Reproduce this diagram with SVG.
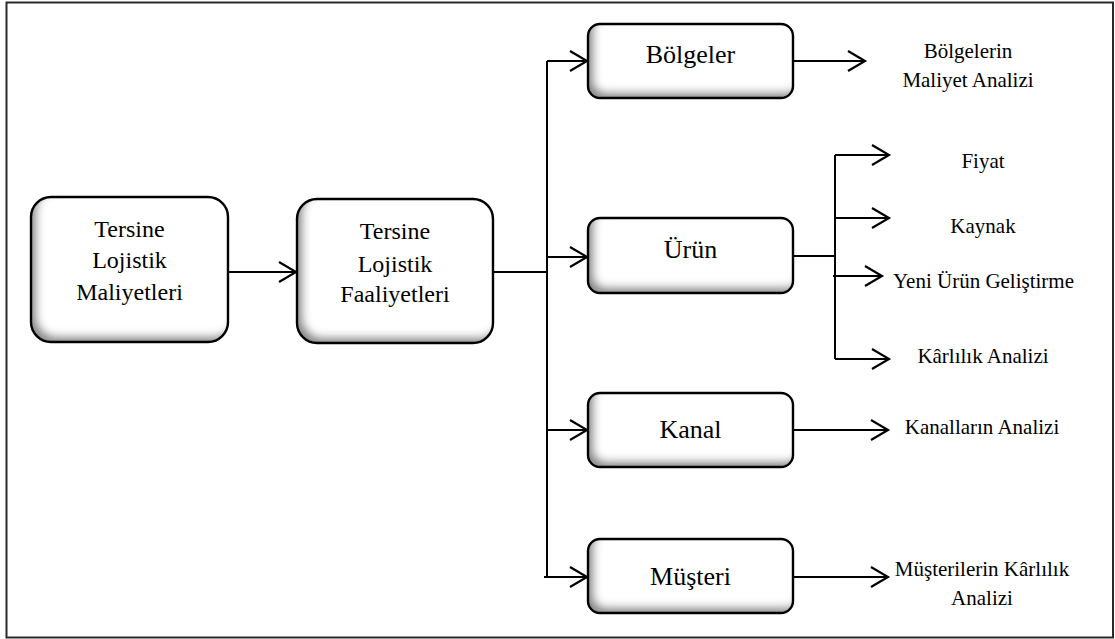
<svg xmlns="http://www.w3.org/2000/svg" width="1115" height="639" viewBox="0 0 1115 639">
  <defs>
    <style>
      .frame { fill: #ffffff; stroke: #2a2a2a; stroke-width: 2; }
      .box-fill { fill: #ffffff; filter: url(#inset); }
      .box-edge { fill: none; stroke: #000; stroke-width: 2.4; }
      .link { fill: none; stroke: #000; stroke-width: 2; }
      .arrow { marker-end: url(#chevron); }
    </style>
    <!-- open arrowhead -->
    <marker id="chevron" markerUnits="userSpaceOnUse" markerWidth="22" markerHeight="24" refX="18" refY="11" orient="auto">
      <path d="M1,1 L18,11 L1,21" fill="none" stroke="#000" stroke-width="2.2"/>
    </marker>
    <!-- soft shadow along the inner left and bottom edges -->
    <filter id="inset" x="-10%" y="-20%" width="120%" height="140%">
      <feComponentTransfer in="SourceAlpha" result="inv">
        <feFuncA type="table" tableValues="1 0"/>
      </feComponentTransfer>
      <feOffset in="inv" dx="6" dy="-6" result="off"/>
      <feGaussianBlur in="off" stdDeviation="4" result="blur"/>
      <feComposite in="blur" in2="SourceAlpha" operator="in" result="mask"/>
      <feFlood flood-color="#000" flood-opacity="0.75"/>
      <feComposite in2="mask" operator="in" result="shade"/>
      <feMerge>
        <feMergeNode in="SourceGraphic"/>
        <feMergeNode in="shade"/>
      </feMerge>
    </filter>
  </defs>

  <rect class="frame" x="6.5" y="2.5" width="1106.5" height="635"/>

  <g id="connectors">
    <path class="link arrow" d="M228,272 H296"/>
    <path class="link" d="M493,272 H547"/>
    <path class="link" d="M547,61 V577"/>
    <path class="link arrow" d="M547,61 H587"/>
    <path class="link arrow" d="M547,257 H587"/>
    <path class="link arrow" d="M547,430 H587"/>
    <path class="link arrow" d="M544,577 H587"/>
    <path class="link arrow" d="M793,61 H865"/>
    <path class="link" d="M793,256 H835"/>
    <path class="link" d="M835,155 V359"/>
    <path class="link arrow" d="M835,155 H889"/>
    <path class="link arrow" d="M835,218 H889"/>
    <path class="link arrow" d="M833,276 H882"/>
    <path class="link arrow" d="M835,359 H889"/>
    <path class="link arrow" d="M793,430 H888"/>
    <path class="link arrow" d="M793,577 H888"/>
  </g>

  <g font-family="Liberation Serif, serif" fill="#000" text-anchor="middle">
    <g id="maliyetler" font-size="24">
      <rect class="box-fill" x="31" y="197" width="197" height="145" rx="20"/>
      <rect class="box-edge" x="31" y="197" width="197" height="145" rx="20"/>
      <text x="129.5" y="237">Tersine</text>
      <text x="129.5" y="268">Lojistik</text>
      <text x="129.5" y="300">Maliyetleri</text>
    </g>

    <g id="faaliyetler" font-size="24">
      <rect class="box-fill" x="297" y="199" width="196" height="144" rx="20"/>
      <rect class="box-edge" x="297" y="199" width="196" height="144" rx="20"/>
      <text x="395" y="239">Tersine</text>
      <text x="395" y="272">Lojistik</text>
      <text x="395" y="302">Faaliyetleri</text>
    </g>

    <g id="bolgeler" font-size="26">
      <rect class="box-fill" x="588" y="24" width="205" height="74" rx="12"/>
      <rect class="box-edge" x="588" y="24" width="205" height="74" rx="12"/>
      <text x="690.5" y="63">Bölgeler</text>
    </g>

    <g id="urun" font-size="26">
      <rect class="box-fill" x="588" y="218" width="205" height="75" rx="12"/>
      <rect class="box-edge" x="588" y="218" width="205" height="75" rx="12"/>
      <text x="690.5" y="258">Ürün</text>
    </g>

    <g id="kanal" font-size="26">
      <rect class="box-fill" x="588" y="393" width="205" height="74" rx="12"/>
      <rect class="box-edge" x="588" y="393" width="205" height="74" rx="12"/>
      <text x="690.5" y="438">Kanal</text>
    </g>

    <g id="musteri" font-size="26">
      <rect class="box-fill" x="588" y="539" width="205" height="74" rx="12"/>
      <rect class="box-edge" x="588" y="539" width="205" height="74" rx="12"/>
      <text x="690.5" y="585">Müşteri</text>
    </g>

    <g id="bolge-analizi" font-size="21">
      <text x="968" y="58">Bölgelerin</text>
      <text x="968" y="87">Maliyet Analizi</text>
    </g>
    <g id="fiyat" font-size="21"><text x="983" y="168">Fiyat</text></g>
    <g id="kaynak" font-size="21"><text x="983" y="233">Kaynak</text></g>
    <g id="yeni-urun" font-size="21"><text x="893" y="288" text-anchor="start">Yeni Ürün Geliştirme</text></g>
    <g id="karlilik" font-size="21"><text x="983" y="363">Kârlılık Analizi</text></g>
    <g id="kanal-analizi" font-size="21"><text x="982" y="434">Kanalların Analizi</text></g>
    <g id="musteri-analizi" font-size="21">
      <text x="982" y="576">Müşterilerin Kârlılık</text>
      <text x="982" y="605">Analizi</text>
    </g>
  </g>
</svg>
